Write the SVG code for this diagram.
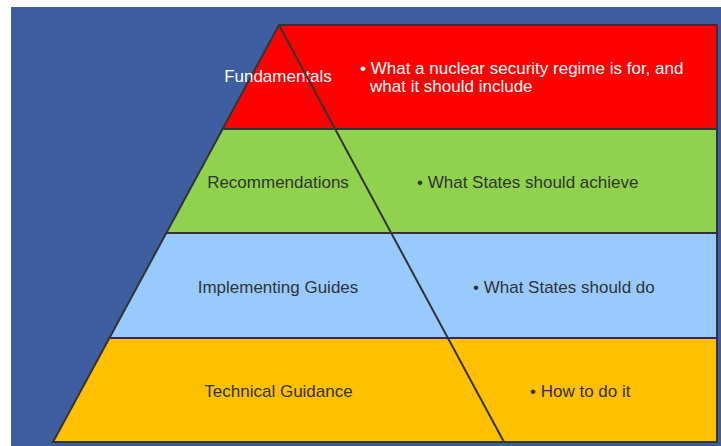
<svg xmlns="http://www.w3.org/2000/svg" width="721" height="446" viewBox="0 0 721 446">
  <style>
    .band { stroke: #333333; stroke-width: 2; stroke-linejoin: miter; }
    .lbl { font-family: "Liberation Sans", Arial, sans-serif; font-size: 17px; fill: #333333; }
    .lbl.light { fill: #ffffff; }
    .mid { text-anchor: middle; }
  </style>
  <rect x="0" y="0" width="721" height="446" fill="#ffffff"/>
  <!-- backdrop panel -->
  <rect x="11" y="7" width="710" height="439" fill="#3e5e9f"/>

  <!-- pyramid tiers -->
  <g id="fundamentals">
    <polygon class="band" fill="#ff0000" points="279,25 717,25 717,129 222.6,129"/>
    <text class="lbl light mid" x="278" y="82">Fundamentals</text>
    <text class="lbl light" x="360" y="74">• What a nuclear security regime is for, and</text>
    <text class="lbl light" x="370" y="92">what it should include</text>
  </g>
  <g id="recommendations">
    <polygon class="band" fill="#90d14d" points="222.6,129 717,129 717,233 166.3,233"/>
    <text class="lbl mid" x="278" y="188">Recommendations</text>
    <text class="lbl" x="417" y="188">• What States should achieve</text>
  </g>
  <g id="implementing-guides">
    <polygon class="band" fill="#99caff" points="166.3,233 717,233 717,338 109.4,338"/>
    <text class="lbl mid" x="278" y="293">Implementing Guides</text>
    <text class="lbl" x="473" y="293">• What States should do</text>
  </g>
  <g id="technical-guidance">
    <polygon class="band" fill="#ffc000" points="109.4,338 717,338 717,442 53,442"/>
    <text class="lbl mid" x="278.5" y="397">Technical Guidance</text>
    <text class="lbl" x="530" y="397">• How to do it</text>
  </g>

  <!-- right flank of the pyramid -->
  <g id="connectors">
    <line x1="279" y1="25" x2="504" y2="442" stroke="#333333" stroke-width="2"/>
  </g>
</svg>
